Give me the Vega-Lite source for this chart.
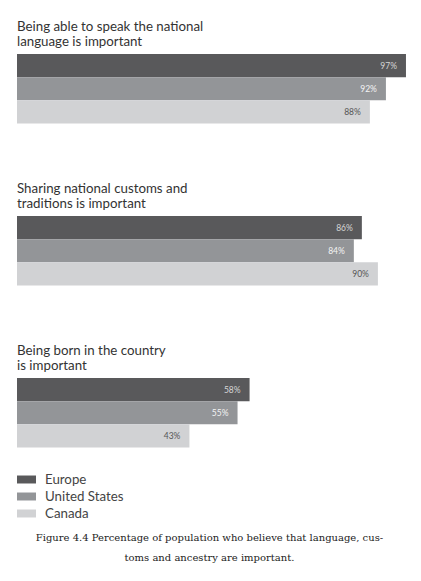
{
  "$schema": "https://vega.github.io/schema/vega-lite/v6.json",
  "description": "Share who say language, customs and birth matter for national identity.",
  "background": "white",
  "padding": {"left": 17, "top": 19, "right": 3, "bottom": 10},
  "data": {"name": "survey"},
  "datasets": {
    "survey": [
      {"question": "language", "region": "Europe", "share": 0.97},
      {"question": "language", "region": "United States", "share": 0.92},
      {"question": "language", "region": "Canada", "share": 0.88},
      {"question": "customs", "region": "Europe", "share": 0.86},
      {"question": "customs", "region": "United States", "share": 0.84},
      {"question": "customs", "region": "Canada", "share": 0.90},
      {"question": "born", "region": "Europe", "share": 0.58},
      {"question": "born", "region": "United States", "share": 0.55},
      {"question": "born", "region": "Canada", "share": 0.43}
    ]
  },
  "title": {
    "text": ["Figure 4.4 Percentage of population who believe that language, cus-", "toms and ancestry are important."],
    "orient": "bottom",
    "anchor": "middle",
    "dx": -8,
    "font": "DejaVu Serif",
    "fontSize": 10,
    "fontWeight": "normal",
    "color": "#222",
    "lineHeight": 20,
    "offset": 13
  },
  "vconcat": [
    {
      "title": {"text": ["Being able to speak the national", "language is important"]},
      "transform": [{"filter": "datum.question == 'language'"}],
      "width": 401,
      "height": 69.5,
      "encoding": {
        "y": {"field": "region", "type": "nominal", "sort": ["Europe", "United States", "Canada"], "axis": null, "scale": {"paddingInner": 0, "paddingOuter": 0}},
        "x": {"field": "share", "type": "quantitative", "scale": {"domain": [0, 1]}, "axis": null}
      },
      "layer": [
        {
          "mark": "bar",
          "encoding": {
            "color": {"field": "region", "type": "nominal", "sort": ["Europe", "United States", "Canada"], "scale": {"range": ["#59595b", "#939598", "#d1d2d4"]}}
          }
        },
        {
          "mark": {"type": "text", "align": "right", "dx": -9, "fontSize": 8.5},
          "encoding": {
            "text": {"field": "share", "format": ".0%"},
            "color": {"condition": [{"test": "datum.region == 'Canada'", "value": "#555"}, {"test": "datum.region == 'Europe'", "value": "#d6d6d6"}], "value": "#f4f4f4"}
          }
        }
      ]
    },
    {
      "title": {"text": ["Sharing national customs and", "traditions is important"]},
      "transform": [{"filter": "datum.question == 'customs'"}],
      "width": 401,
      "height": 69.5,
      "encoding": {
        "y": {"field": "region", "type": "nominal", "sort": ["Europe", "United States", "Canada"], "axis": null, "scale": {"paddingInner": 0, "paddingOuter": 0}},
        "x": {"field": "share", "type": "quantitative", "scale": {"domain": [0, 1]}, "axis": null}
      },
      "layer": [
        {
          "mark": "bar",
          "encoding": {
            "color": {"field": "region", "type": "nominal", "sort": ["Europe", "United States", "Canada"], "scale": {"range": ["#59595b", "#939598", "#d1d2d4"]}}
          }
        },
        {
          "mark": {"type": "text", "align": "right", "dx": -9, "fontSize": 8.5},
          "encoding": {
            "text": {"field": "share", "format": ".0%"},
            "color": {"condition": [{"test": "datum.region == 'Canada'", "value": "#555"}, {"test": "datum.region == 'Europe'", "value": "#d6d6d6"}], "value": "#f4f4f4"}
          }
        }
      ]
    },
    {
      "title": {"text": ["Being born in the country", "is important"]},
      "transform": [{"filter": "datum.question == 'born'"}],
      "width": 401,
      "height": 69.5,
      "encoding": {
        "y": {"field": "region", "type": "nominal", "sort": ["Europe", "United States", "Canada"], "axis": null, "scale": {"paddingInner": 0, "paddingOuter": 0}},
        "x": {"field": "share", "type": "quantitative", "scale": {"domain": [0, 1]}, "axis": null}
      },
      "layer": [
        {
          "mark": "bar",
          "encoding": {
            "color": {"field": "region", "type": "nominal", "sort": ["Europe", "United States", "Canada"], "scale": {"range": ["#59595b", "#939598", "#d1d2d4"]}}
          }
        },
        {
          "mark": {"type": "text", "align": "right", "dx": -9, "fontSize": 8.5},
          "encoding": {
            "text": {"field": "share", "format": ".0%"},
            "color": {"condition": [{"test": "datum.region == 'Canada'", "value": "#555"}, {"test": "datum.region == 'Europe'", "value": "#d6d6d6"}], "value": "#f4f4f4"}
          }
        }
      ]
    }
  ],
  "spacing": 57,
  "config": {
    "font": "Lato",
    "view": {"stroke": null},
    "title": {"anchor": "start", "fontSize": 13.3, "fontWeight": "normal", "color": "#333", "lineHeight": 15, "offset": 6},
    "legend": {
      "orient": "bottom",
      "direction": "vertical",
      "title": null,
      "symbolType": "M-1,-0.42H1V0.42H-1Z",
      "symbolSize": 361,
      "symbolStrokeWidth": 0,
      "labelFont": "Lato",
      "labelFontSize": 13.3,
      "labelColor": "#444",
      "labelOffset": 9,
      "rowPadding": 1,
      "offset": 22
    }
  }
}
